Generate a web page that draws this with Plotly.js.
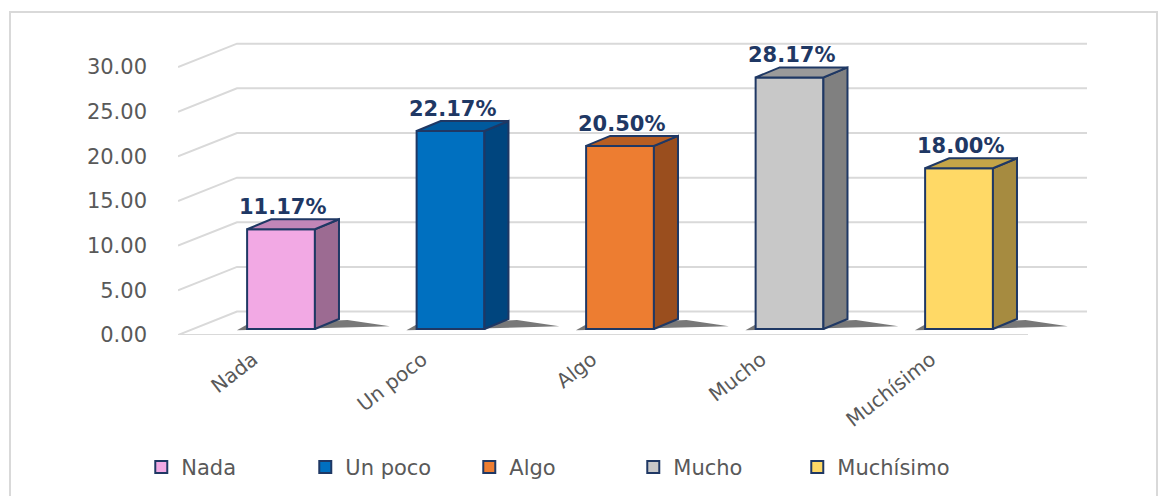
<!DOCTYPE html>
<html>
<head>
<meta charset="utf-8">
<script src="https://cdn.plot.ly/plotly-3.0.1.min.js"></script>
<style>html,body{margin:0;padding:0;background:#fff;}</style>
</head>
<body>
<div id="chart" style="width:1158px;height:496px;"></div>
<script>
// ---- data ----
const categories = ["Nada", "Un poco", "Algo", "Mucho", "Muchísimo"];
const values = [11.17, 22.17, 20.50, 28.17, 18.00];
const yTickVals = [0, 5, 10, 15, 20, 25, 30];
const yTickText = ["0.00", "5.00", "10.00", "15.00", "20.00", "25.00", "30.00"];

// ---- styles ----
const frontColors = ["#F2A9E4", "#0070C0", "#ED7D31", "#C8C8C8", "#FFD966"];
const sideColors  = ["#9C6B92", "#00457E", "#9A4E1E", "#808080", "#A68B40"];
const topColors   = ["#C286B8", "#005A9E", "#B85E22", "#9A9A9A", "#C4A548"];
const edge = "#1F3864";
const barW = 0.40, depthX = 0.142, depthY = 1.12;
const backX = 0.348, backY = 1.95, frontY = -0.67;
const xMin = -0.6077, xMax = 4.755, floorRight = 4.407;

const traces = [];
const shapes = [];
const gridColor = "#D9D9D9";

yTickVals.forEach(t => {
  shapes.push({
    type: "path", xref: "x", yref: "y", layer: "below",
    path: `M ${xMin},${t + frontY} L ${xMin + backX},${t + backY} L ${xMax},${t + backY}`,
    line: {color: gridColor, width: 2}
  });
});
shapes.push({
  type: "line", xref: "x", yref: "y", layer: "below",
  x0: xMin, x1: floorRight, y0: frontY, y1: frontY,
  line: {color: gridColor, width: 2}
});
// outer chart border
shapes.push({
  type: "rect", xref: "paper", yref: "paper", layer: "below",
  x0: -0.1848, x1: 1.077, y0: -0.56, y1: 1.059,
  line: {color: "#D9D9D9", width: 2}, fillcolor: "rgba(0,0,0,0)"
});

categories.forEach((c, i) => {
  const v = values[i];
  const xl = i - barW / 2, xr = i + barW / 2;
  // soft shadow on the floor (under the bar)
  shapes.push({
    type: "path", xref: "x", yref: "y", layer: "below",
    path: `M ${xl - 0.06},-0.15 L ${xr + depthX + 0.3},0.3 L ${xr + depthX + 0.05},1.0 L ${xl},0.5 Z`,
    fillcolor: "rgba(30,30,30,0.6)", line: {width: 0}
  });
  traces.push({
    type: "bar", name: c, x: [i], y: [v], width: [barW],
    marker: {color: frontColors[i], line: {color: edge, width: 2}},
    hoverinfo: "x+y"
  });
  traces.push({
    type: "scatter", mode: "lines", fill: "toself", showlegend: false, hoverinfo: "skip",
    x: [xr, xr + depthX, xr + depthX, xr, xr],
    y: [0, depthY, v + depthY, v, 0],
    line: {color: edge, width: 2}, fillcolor: sideColors[i]
  });
  traces.push({
    type: "scatter", mode: "lines", fill: "toself", showlegend: false, hoverinfo: "skip",
    x: [xl, xl + depthX, xr + depthX, xr, xl],
    y: [v, v + depthY, v + depthY, v, v],
    line: {color: edge, width: 2}, fillcolor: topColors[i]
  });
});

const annotations = values.map((v, i) => ({
  x: i + 0.01, y: v, xref: "x", yref: "y",
  text: v.toFixed(2) + "%", showarrow: false, yshift: 22, yanchor: "middle",
  font: {family: "DejaVu Sans", size: 21, color: edge, weight: "bold"}
}));

const layout = {
  width: 1158, height: 496,
  margin: {l: 178, r: 71, t: 30, b: 161},
  paper_bgcolor: "#ffffff", plot_bgcolor: "rgba(0,0,0,0)",
  barmode: "overlay",
  showlegend: true,
  legend: {
    orientation: "h", xref: "container", yref: "container",
    x: 0.122, xanchor: "left", y: 0.058, yanchor: "middle",
    entrywidth: 119, entrywidthmode: "pixels",
    font: {family: "DejaVu Sans", size: 21, color: "#595959"},
    itemclick: false, itemdoubleclick: false
  },
  xaxis: {
    range: [xMin, xMax], tickvals: [0, 1, 2, 3, 4], ticktext: categories,
    tickangle: -38, showgrid: false, zeroline: false, showline: false,
    ticks: "", ticklabelshift: -28, ticklabelstandoff: 8,
    tickfont: {family: "DejaVu Sans", size: 20, color: "#595959"}, fixedrange: true
  },
  yaxis: {
    range: [frontY, 33.48], tickvals: yTickVals, ticktext: yTickText,
    showgrid: false, zeroline: false, showline: false, ticks: "",
    ticklabelshift: 6, ticklabelstandoff: 30,
    tickfont: {family: "DejaVu Sans", size: 21, color: "#595959"}, fixedrange: true
  },
  shapes: shapes,
  annotations: annotations
};

Plotly.newPlot("chart", traces, layout, {displayModeBar: false, staticPlot: true});
</script>
</body>
</html>
